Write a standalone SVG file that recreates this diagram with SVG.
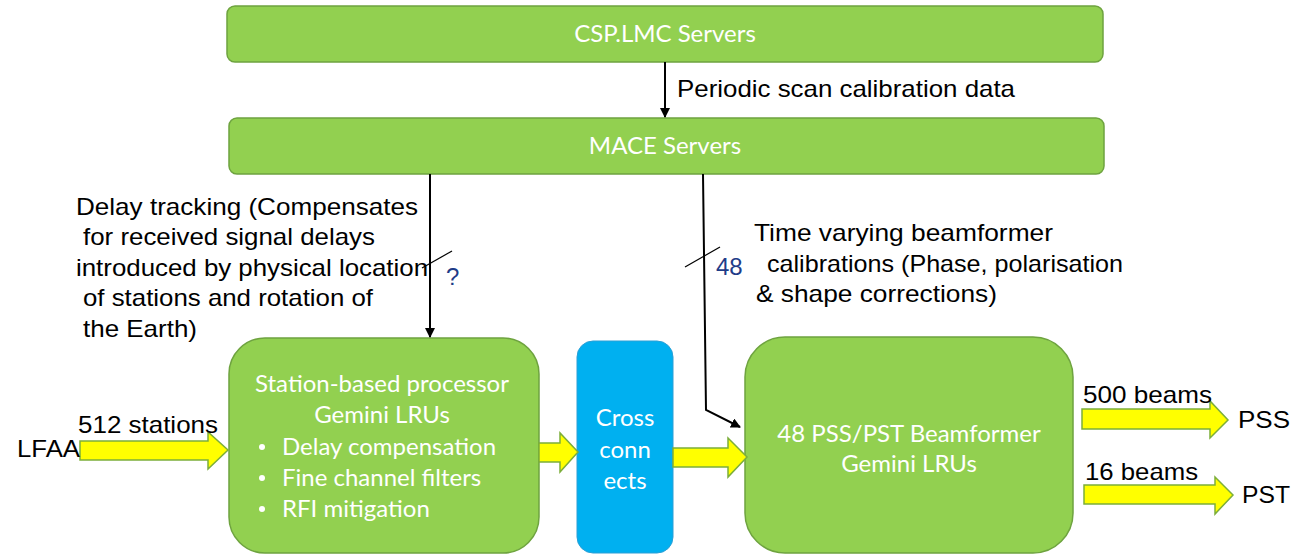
<svg xmlns="http://www.w3.org/2000/svg" width="1297" height="556" viewBox="0 0 1297 556">
  <style>
    .box { fill: #92d050; stroke: #6ea33f; stroke-width: 1.5; }
    .xc { fill: #00b0f0; stroke: #2a9fd6; stroke-width: 1; }
    .fat { fill: #ffff00; stroke: #7cae3a; stroke-width: 1.5; }
    .wt { font-family: Lato, "Open Sans", sans-serif; font-size: 24px; fill: #ffffff; }
    .bt { font-family: "Liberation Sans", Arial, sans-serif; font-size: 24px; fill: #000000; }
    .nt { font-family: "Liberation Sans", Arial, sans-serif; font-size: 24px; fill: #1f3c88; }
    .ln { fill: none; stroke: #000000; stroke-width: 2; }
    .tick { fill: none; stroke: #000000; stroke-width: 1.2; }
  </style>
  <defs>
    <marker id="ah" viewBox="0 0 10 10" refX="9" refY="5" markerWidth="5" markerHeight="5" orient="auto">
      <path d="M0,0 L10,5 L0,10 z" fill="#000000"/>
    </marker>
  </defs>
  <rect width="1297" height="556" fill="#ffffff"/>

  <g id="csp-lmc">
    <rect class="box" x="227" y="6" width="876" height="56" rx="8"/>
    <text class="wt" x="665" y="42" text-anchor="middle">CSP.LMC Servers</text>
  </g>

  <g id="mace">
    <rect class="box" x="229" y="118" width="875" height="56" rx="8"/>
    <text class="wt" x="665" y="154" text-anchor="middle">MACE Servers</text>
  </g>

  <g id="station">
    <rect class="box" x="229" y="338" width="310" height="215" rx="36"/>
    <text class="wt" x="382" y="392" text-anchor="middle">Station-based processor</text>
    <text class="wt" x="382" y="423" text-anchor="middle">Gemini LRUs</text>
    <circle cx="262" cy="447" r="3" fill="#ffffff"/>
    <text class="wt" x="282" y="455">Delay compensation</text>
    <circle cx="262" cy="478" r="3" fill="#ffffff"/>
    <text class="wt" x="282" y="486">Fine channel filters</text>
    <circle cx="262" cy="509" r="3" fill="#ffffff"/>
    <text class="wt" x="282" y="517">RFI mitigation</text>
  </g>

  <g id="cross">
    <rect class="xc" x="577" y="341" width="96" height="212" rx="16"/>
    <text class="wt" x="625" y="426" text-anchor="middle">Cross</text>
    <text class="wt" x="625" y="458" text-anchor="middle">conn</text>
    <text class="wt" x="625" y="489" text-anchor="middle">ects</text>
  </g>

  <g id="beamformer">
    <rect class="box" x="745" y="337" width="328" height="216" rx="40"/>
    <text class="wt" x="909" y="442" text-anchor="middle">48 PSS/PST Beamformer</text>
    <text class="wt" x="909" y="472" text-anchor="middle">Gemini LRUs</text>
  </g>

  <g id="connectors">
    <!-- CSP.LMC to MACE -->
    <line class="ln" x1="665" y1="62" x2="665" y2="117" marker-end="url(#ah)"/>
    <text class="bt" x="677" y="97" textLength="338" lengthAdjust="spacingAndGlyphs">Periodic scan calibration data</text>

    <!-- MACE to station processor: delay tracking -->
    <line class="ln" x1="430" y1="174" x2="430" y2="337" marker-end="url(#ah)"/>
    <line class="tick" x1="422" y1="268" x2="452" y2="251"/>
    <text class="nt" x="446" y="285">?</text>
    <text class="bt" x="76" y="215" textLength="342" lengthAdjust="spacingAndGlyphs">Delay tracking (Compensates</text>
    <text class="bt" x="83" y="245" textLength="292" lengthAdjust="spacingAndGlyphs">for received signal delays</text>
    <text class="bt" x="76" y="276" textLength="352" lengthAdjust="spacingAndGlyphs">introduced by physical location</text>
    <text class="bt" x="83" y="306" textLength="290" lengthAdjust="spacingAndGlyphs">of stations and rotation of</text>
    <text class="bt" x="83" y="337" textLength="114" lengthAdjust="spacingAndGlyphs">the Earth)</text>

    <!-- MACE to beamformer: calibrations -->
    <polyline class="ln" points="703,174 706,410 740,427" marker-end="url(#ah)"/>
    <line class="tick" x1="685" y1="267" x2="720" y2="247"/>
    <text class="nt" x="716" y="275">48</text>
    <text class="bt" x="754" y="241" textLength="299" lengthAdjust="spacingAndGlyphs">Time varying beamformer</text>
    <text class="bt" x="767" y="272" textLength="356" lengthAdjust="spacingAndGlyphs">calibrations (Phase, polarisation</text>
    <text class="bt" x="756" y="302" textLength="241" lengthAdjust="spacingAndGlyphs">&amp; shape corrections)</text>

    <!-- data flow arrows -->
    <polygon class="fat" points="80,441 208,441 208,432 228,450 208,469 208,460 80,460"/>
    <text class="bt" x="17" y="457" textLength="63" lengthAdjust="spacingAndGlyphs">LFAA</text>
    <text class="bt" x="78" y="433" textLength="140" lengthAdjust="spacingAndGlyphs">512 stations</text>

    <polygon class="fat" points="539,443 560,443 560,433 578,452 560,472 560,462 539,462"/>

    <polygon class="fat" points="673,448 728,448 728,438 747,457 728,477 728,467 673,467"/>

    <polygon class="fat" points="1082,409 1210,409 1210,401 1228,420 1210,438 1210,429 1082,429"/>
    <text class="bt" x="1083" y="403" textLength="129" lengthAdjust="spacingAndGlyphs">500 beams</text>
    <text class="bt" x="1238" y="428" textLength="52" lengthAdjust="spacingAndGlyphs">PSS</text>

    <polygon class="fat" points="1084,485 1215,485 1215,477 1233,495 1215,514 1215,504 1084,504"/>
    <text class="bt" x="1085" y="480" textLength="113" lengthAdjust="spacingAndGlyphs">16 beams</text>
    <text class="bt" x="1242" y="503" textLength="48" lengthAdjust="spacingAndGlyphs">PST</text>
  </g>
</svg>
